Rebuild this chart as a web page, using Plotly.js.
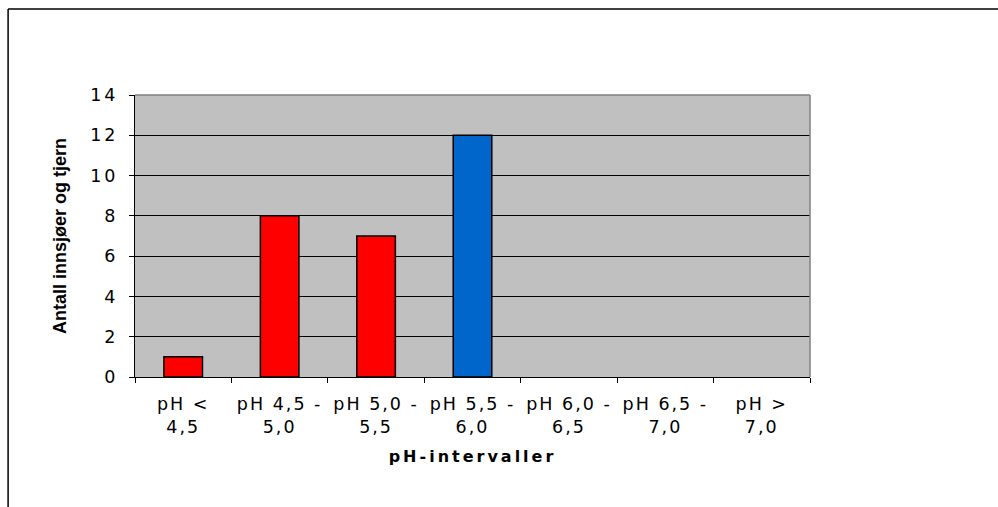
<!DOCTYPE html>
<html>
<head>
<meta charset="utf-8">
<script src="https://cdn.plot.ly/plotly-3.0.1.min.js"></script>
<style>
html,body{margin:0;padding:0;background:#fff;}
#chart{width:998px;height:507px;}
#chart .xtick text { letter-spacing: 2px; }
#chart .ytick text { letter-spacing: 3px; }
#chart .g-xtitle text { letter-spacing: 3px; }
</style>
</head>
<body>
<div id="chart"></div>
<script>
const categories = ["pH <<br>4,5", "pH 4,5 -<br>5,0", "pH 5,0 -<br>5,5", "pH 5,5 -<br>6,0", "pH 6,0 -<br>6,5", "pH 6,5 -<br>7,0", "pH ><br>7,0"];
const counts = [1, 8, 7, 12, 0, 0, 0];
const barColors = ["#FF0000", "#FF0000", "#FF0000", "#0066CC", "#FF0000", "#FF0000", "#FF0000"];
const yTicks = [0, 2, 4, 6, 8, 10, 12, 14];

const trace = {
  type: "bar",
  x: categories,
  y: counts,
  marker: {
    color: barColors,
    line: { color: "#000000", width: counts.map(v => v > 0 ? 1.5 : 0) }
  },
  hoverinfo: "none"
};

const tickFont = { family: "DejaVu Sans, Verdana, sans-serif", size: 17.5, color: "#000" };

const layout = {
  width: 998, height: 507,
  margin: { l: 135, r: 188, t: 95, b: 130 },
  paper_bgcolor: "#FFFFFF",
  plot_bgcolor: "#C0C0C0",
  bargap: 0.6,
  showlegend: false,
  font: { family: "Liberation Sans, Arial, sans-serif", color: "#000", size: 15 },
  xaxis: {
    type: "category",
    showgrid: false,
    showline: true, linecolor: "#000", linewidth: 1,
    ticks: "outside", ticklen: 5, tickcolor: "#000", tickwidth: 1,
    tickson: "boundaries",
    tickfont: tickFont,
    ticklabelstandoff: 11,
    title: { text: "pH-intervaller", font: { family: "DejaVu Sans, Verdana, sans-serif", size: 16, weight: "bold" }, standoff: 15 }
  },
  yaxis: {
    range: [0, 14],
    tickvals: yTicks,
    showgrid: true, gridcolor: "#000", gridwidth: 1,
    showline: true, linecolor: "#000", linewidth: 1,
    ticks: "outside", ticklen: 5, tickcolor: "#000",
    tickfont: tickFont,
    ticklabelstandoff: 7,
    zeroline: false,
    title: { text: "Antall innsjøer og tjern", font: { family: "Liberation Sans, Arial, sans-serif", size: 18, weight: "bold" }, standoff: 24 }
  },
  shapes: [
    { type: "line", xref: "paper", yref: "paper", x0: 0, x1: 1, y0: 1, y1: 1, line: { color: "#808080", width: 1.5 } },
    { type: "line", xref: "paper", yref: "paper", x0: 1, x1: 1, y0: 0, y1: 1, line: { color: "#808080", width: 1.5 } },
    { type: "line", xref: "paper", yref: "paper", x0: -0.188, x1: 1.28, y0: 1.305, y1: 1.305, line: { color: "#000", width: 1.5 } },
    { type: "line", xref: "paper", yref: "paper", x0: -0.188, x1: -0.188, y0: -0.5, y1: 1.305, line: { color: "#000", width: 1.5 } }
  ]
};

Plotly.newPlot("chart", [trace], layout, { displayModeBar: false, staticPlot: true });
</script>
</body>
</html>
